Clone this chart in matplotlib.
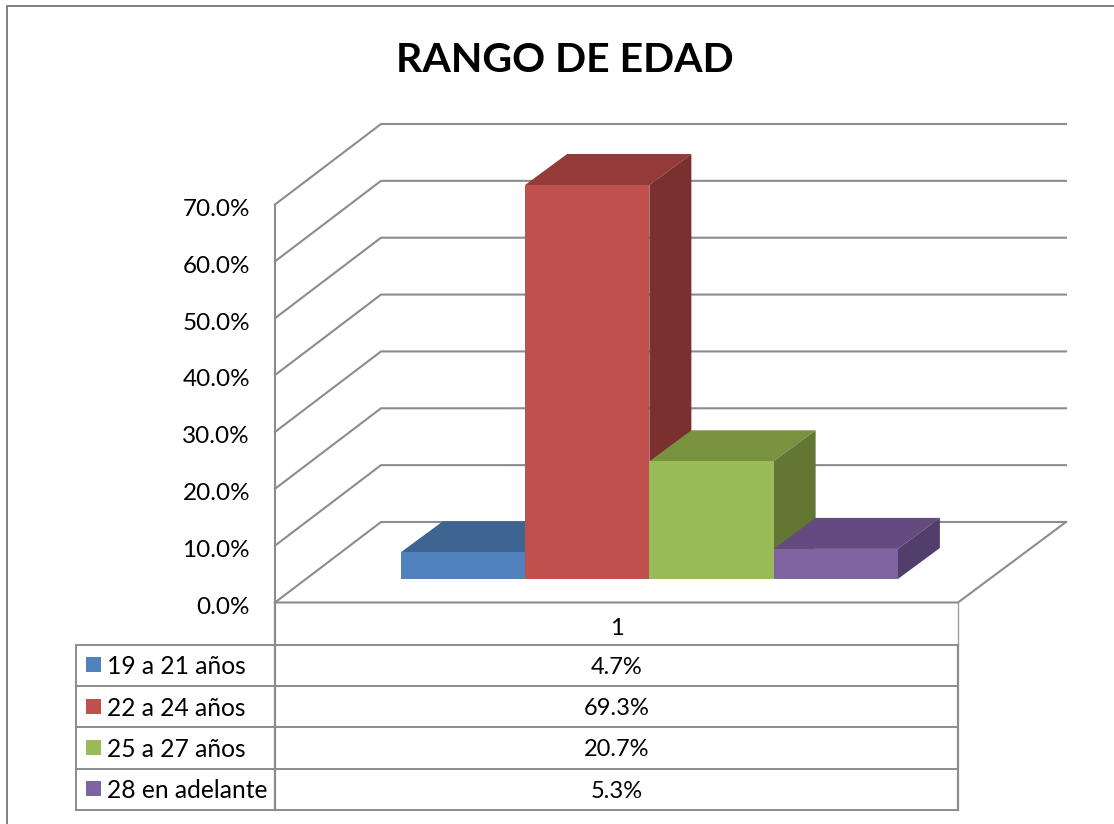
import matplotlib
matplotlib.use("Agg")
import matplotlib.pyplot as plt
from matplotlib.patches import Polygon, Rectangle
from matplotlib.transforms import Affine2D, ScaledTranslation

plt.rcParams['font.family'] = ['Lato', 'DejaVu Sans']

title = "RANGO DE EDAD"
series = ["19 a 21 años", "22 a 24 años", "25 a 27 años", "28 en adelante"]
values = [4.7, 69.3, 20.7, 5.3]
value_labels = ["4.7%", "69.3%", "20.7%", "5.3%"]
yticks = [0, 10, 20, 30, 40, 50, 60, 70]
category = "1"
front = ["#4F81BD", "#C0504D", "#9BBB59", "#8064A2"]
top = ["#3E6491", "#943B39", "#78923F", "#634B80"]
side = ["#335478", "#7A302E", "#627733", "#523E6A"]
GRID = "#8C8C8C"

W, H = 1114, 824
fig = plt.figure(figsize=(W / 100, H / 100), dpi=100, facecolor="white")

# overlay in pixel coordinates for frame and table rules
ov = fig.add_axes([0, 0, 1, 1], zorder=0)
ov.set_xlim(0, W); ov.set_ylim(H, 0); ov.axis("off")
ov.plot([7, 7, W], [H, 6, 6], color="#7F7F7F", lw=1.4)

# plot axes: the front floor edge to the 70% level
L, R, Y0, Y70 = 275, 958, 602.5, 204.5
ax = fig.add_axes([L / W, 1 - Y0 / H, (R - L) / W, (Y0 - Y70) / H], zorder=1)
ax.patch.set_alpha(0)
bw = 124.25
c0 = 463
ax.set_xlim((L - c0) / bw, (R - c0) / bw)
ax.set_ylim(0, 70)
for s in ax.spines.values():
    s.set_visible(False)
ax.set_xticks([])
ax.set_yticks(yticks, [f"{t:.1f}%" for t in yticks])
ax.tick_params(axis="y", length=0, pad=18, labelsize=17.5, labelcolor="black")
label_shift = ScaledTranslation(0, -3.5 / 72, fig.dpi_scale_trans)
for lab in ax.get_yticklabels():
    lab.set_va("center")
    lab.set_transform(lab.get_transform() + label_shift)

x0, x1 = ax.get_xlim()
BACK_X, BACK_Y = 106, 80.5
RIGHT = 1066
# walls and gridlines
for t in yticks:
    p0 = ax.transData.transform((x0, t))
    ax.add_line(plt.Line2D([p0[0], p0[0] + BACK_X, RIGHT], [p0[1], p0[1] + BACK_Y, p0[1] + BACK_Y],
                           transform=None, color=GRID, lw=1.5, clip_on=False, zorder=1))
p0 = ax.transData.transform((x0, 0))
p7 = ax.transData.transform((x0, 70))
p1 = ax.transData.transform((x1, 0))
ax.add_line(plt.Line2D([p0[0], p7[0]], [p0[1], p7[1]], transform=None, color=GRID, lw=1.5, clip_on=False, zorder=1))
ax.add_line(plt.Line2D([p0[0], p1[0], RIGHT], [p0[1], p1[1], p1[1] + BACK_Y], transform=None, color=GRID, lw=1.5, clip_on=False, zorder=1))

# bars, raised to the middle of the floor depth; later bars overlap earlier ones
RAISE = 23.5
shift = ax.transData + Affine2D().translate(0, RAISE)
DX, DY = 42, 31
for i, v in enumerate(values):
    a = ax.transData.transform((i - 0.5, 0)); b = ax.transData.transform((i + 0.5, v))
    a = (a[0], a[1] + RAISE); b = (b[0], b[1] + RAISE)
    z = 3 + i
    ax.add_patch(Polygon([(a[0], b[1]), (b[0], b[1]), (b[0] + DX, b[1] + DY), (a[0] + DX, b[1] + DY)],
                         closed=True, transform=None, fc=top[i], ec="none", clip_on=False, zorder=z))
    ax.add_patch(Polygon([(b[0], a[1]), (b[0] + DX, a[1] + DY), (b[0] + DX, b[1] + DY), (b[0], b[1])],
                         closed=True, transform=None, fc=side[i], ec="none", clip_on=False, zorder=z))
    ax.bar(i, v, width=1, bottom=0, color=front[i], transform=shift, clip_on=False, zorder=z + 0.5)
ax.set_xlim((L - c0) / bw, (R - c0) / bw)
ax.set_ylim(0, 70)

# title
fig.text(564.5 / W, 1 - 60 / H, title, ha="center", va="center", fontsize=29.5, fontweight="bold", color="black")

# data table
rows = [644.5, 686, 727, 768.5, 810]
TL = 76
ov.plot([L, L], [Y0, rows[-1]], color=GRID, lw=1.6)
ov.plot([R, R], [Y0, rows[0]], color="#A0A0A0", lw=1.0)
ov.plot([R, R], [rows[0], rows[-1]], color=GRID, lw=1.6)
for y in rows:
    ov.plot([TL, R], [y, y], color=GRID, lw=1.4)
ov.plot([TL, TL], [rows[0], rows[-1]], color=GRID, lw=1.4)
ov.text((L + R) / 2, 628.5, category, ha="center", va="center", fontsize=17, color="black")
for i, name in enumerate(series):
    cy = (rows[i] + rows[i + 1]) / 2
    ov.add_patch(Rectangle((86, cy - 8), 15, 15, fc=front[i], ec="none"))
    ov.text(107, cy + 1.5, name, ha="left", va="center", fontsize=17.7, color="black")
    ov.text((L + R) / 2, cy + 2, value_labels[i], ha="center", va="center", fontsize=17, color="black")

fig.savefig("out.png", dpi=100)
